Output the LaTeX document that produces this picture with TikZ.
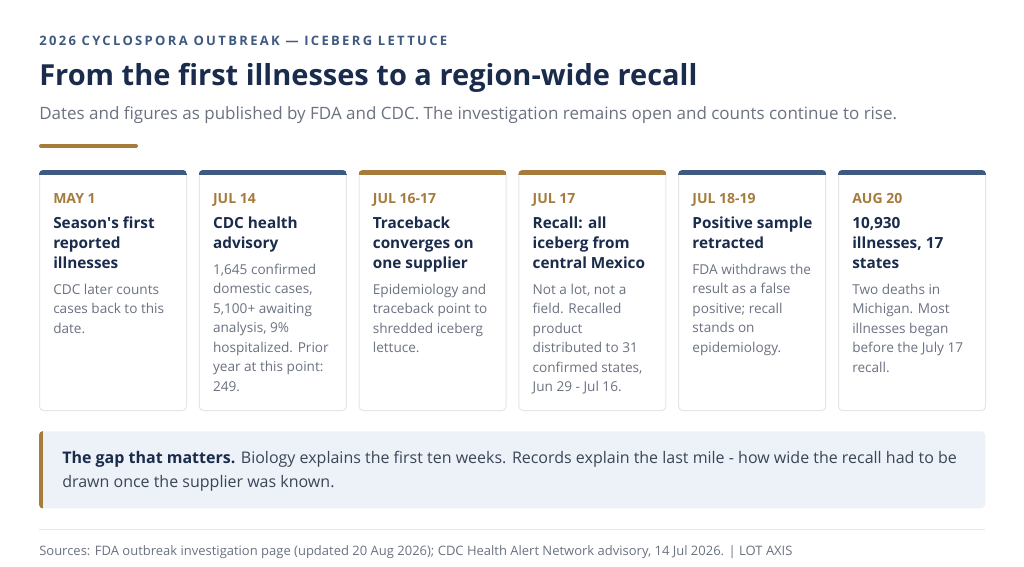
\documentclass[tikz,border=0pt]{standalone}
\usepackage{fontspec}
\setmainfont{Open Sans}
\newfontfamily\kickerfont[LetterSpace=18]{Open Sans}
\usetikzlibrary{positioning}
\definecolor{navy}{HTML}{1A2B4C}
\definecolor{steel}{HTML}{3E5A80}
\definecolor{gold}{HTML}{A67C3D}
\definecolor{slate}{HTML}{6B7280}
\definecolor{ink}{HTML}{3A4556}
\definecolor{edge}{HTML}{E3E6EB}
\definecolor{wash}{HTML}{EDF2F9}
\tikzstyle{card} = [draw=edge, line width=0.75pt, fill=white, rounded corners=3pt, anchor=north west, inner sep=0pt, minimum width=110.25pt, minimum height=180pt]
\tikzstyle{datelabel} = [inner sep=0pt, text=gold, font=\fontsize{10.5pt}{12pt}\selectfont\bfseries, text height=7.5pt, text depth=0pt]
\tikzstyle{headline} = [inner sep=0pt, align=left, text=navy, font=\fontsize{11.5pt}{15pt}\selectfont\bfseries]
\tikzstyle{bodytext} = [inner sep=0pt, align=left, text=slate, font=\fontsize{10.2pt}{14.6pt}\selectfont]

\begin{document}
\begin{tikzpicture}[x=0.75pt,y=-0.75pt]
  \fill[white] (0,0) rectangle (1024,567);
  \useasboundingbox (0,0) rectangle (1024,567);
  \node[anchor=base west, inner sep=0pt, text=steel, font=\kickerfont\fontsize{9.75pt}{12pt}\selectfont\bfseries] (kicker) at (39,46) {2026 CYCLOSPORA OUTBREAK — ICEBERG LETTUCE};
  \node[anchor=base west, inner sep=0pt, text=navy, font=\fontsize{21.75pt}{26pt}\selectfont\bfseries] (title) at ([yshift=-29.25pt]kicker.base west) {From the first illnesses to a region-wide recall};
  \node[anchor=base west, inner sep=0pt, text=slate, font=\fontsize{12.75pt}{15pt}\selectfont] (subtitle) at ([yshift=-25.5pt]title.base west) {Dates and figures as published by FDA and CDC. The investigation remains open and counts continue to rise.};
  \draw[gold, line width=3pt, line cap=round] (41,146) -- (136,146);

  \foreach \date/\head/\body/\col [count=\i] in {
    {MAY 1}/{Season\textquotesingle s first\\reported\\illnesses}/{CDC later counts\\cases back to this\\date.}/steel,
    {JUL 14}/{CDC health\\advisory}/{1,645 confirmed\\domestic cases,\\5,100+ awaiting\\analysis, 9\%\\hospitalized. Prior\\year at this point:\\249.}/steel,
    {JUL 16-17}/{Traceback\\converges on\\one supplier}/{Epidemiology and\\traceback point to\\shredded iceberg\\lettuce.}/gold,
    {JUL 17}/{Recall: all\\iceberg from\\central Mexico}/{Not a lot, not a\\field. Recalled\\product\\distributed to 31\\confirmed states,\\Jun 29 - Jul 16.}/gold,
    {JUL 18-19}/{Positive sample\\retracted}/{FDA withdraws the\\result as a false\\positive; recall\\stands on\\epidemiology.}/steel,
    {AUG 20}/{10,930\\illnesses, 17\\states}/{Two deaths in\\Michigan. Most\\illnesses began\\before the July 17\\recall.}/steel}{
    \node[card] (c\i) at ({39+159.8*(\i-1)},170) {};
    \begin{scope}
      \clip[rounded corners=3pt] (c\i.north west) rectangle (c\i.south east);
      \fill[\col] (c\i.north west) rectangle ([yshift=-3.75pt]c\i.north east);
    \end{scope}
    \node[datelabel, below right=17.25pt and 10.5pt of c\i.north west] (d\i) {\date};
    \node[headline, below right=8.25pt and 0pt of d\i.south west] (h\i) {\strut\head\strut};
    \node[bodytext, below right=4pt and 0pt of h\i.south west] (b\i) {\strut\body\strut};
  }

  \node[anchor=north west, inner sep=0pt, fill=wash, rounded corners=3pt, minimum width=709.5pt, minimum height=57.75pt] (gap) at (39,431) {};
  \begin{scope}
    \clip[rounded corners=3pt] (gap.north west) rectangle (gap.south east);
    \fill[gold] (gap.north west) rectangle ([xshift=3pt]gap.south west);
  \end{scope}
  \node[below right=11.25pt and 17.25pt of gap.north west, inner sep=0pt, align=left, text=ink, font=\fontsize{12pt}{18pt}\selectfont] (gaptext) {\strut\textcolor{navy}{\bfseries The gap that matters.} Biology explains the first ten weeks. Records explain the last mile - how wide the recall had to be\\drawn once the supplier was known.\strut};

  \draw[edge, line width=0.75pt] (39,529) -- (985,529);
  \node[anchor=base west, inner sep=0pt, text=slate, font=\fontsize{9.75pt}{11pt}\selectfont] (sources) at (39,555) {Sources: FDA outbreak investigation page (updated 20 Aug 2026); CDC Health Alert Network advisory, 14 Jul 2026. | LOT AXIS};
\end{tikzpicture}
\end{document}
